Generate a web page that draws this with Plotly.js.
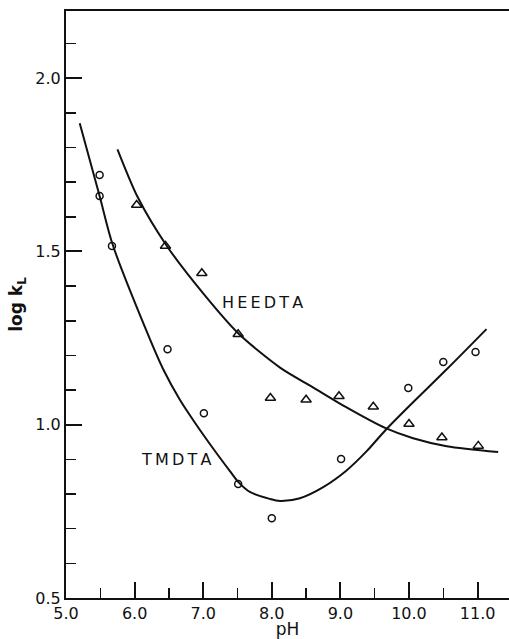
<!DOCTYPE html>
<html>
<head>
<meta charset="utf-8">
<script src="https://cdn.plot.ly/plotly-3.0.1.min.js"></script>
<style>html,body{margin:0;padding:0;background:#fff;}#chart{width:509px;height:639px;}</style>
</head>
<body>
<div id="chart"></div>
<script>
// Measured points
var tmdtaPH   = [5.49, 5.49, 5.67, 6.48, 7.01, 7.51, 8.00, 9.01, 9.99, 10.50, 10.97];
var tmdtaLogK = [1.721, 1.660, 1.516, 1.218, 1.033, 0.829, 0.730, 0.901, 1.106, 1.181, 1.210];
var heedtaPH   = [6.03, 6.45, 6.98, 7.51, 7.98, 8.50, 8.98, 9.48, 10.00, 10.48, 11.01];
var heedtaLogK = [1.634, 1.516, 1.437, 1.261, 1.077, 1.072, 1.082, 1.052, 1.002, 0.963, 0.939];

// Fitted curves
var tmdtaFitPH   = [5.20, 5.49, 5.68, 6.175, 6.417, 6.66, 6.90, 7.15, 7.39, 7.51, 7.68, 7.97, 8.12, 8.41, 8.75, 9.09, 9.38, 9.66, 10.06, 10.55, 11.13];
var tmdtaFitLogK = [1.870, 1.660, 1.520, 1.270, 1.160, 1.072, 1.000, 0.930, 0.866, 0.835, 0.806, 0.786, 0.780, 0.788, 0.820, 0.868, 0.923, 0.985, 1.065, 1.160, 1.276];
var heedtaFitPH   = [5.75, 6.05, 6.47, 7.00, 7.51, 8.12, 8.60, 9.09, 9.66, 10.06, 10.55, 11.30];
var heedtaFitLogK = [1.795, 1.655, 1.516, 1.379, 1.264, 1.165, 1.108, 1.050, 0.990, 0.961, 0.938, 0.921];

var xTickVals = [5, 6, 7, 8, 9, 10, 11];
var xTickText = ["5.0", "6.0", "7.0", "8.0", "9.0", "10.0", "11.0"];
var yTickVals = [0.5, 1.0, 1.5, 2.0];
var yTickText = ["0.5", "1.0", "1.5", "2.0"];

var ink = '#111';
var font = {family: 'DejaVu Sans, sans-serif', size: 16, color: ink};

var traces = [
  {x: tmdtaFitPH, y: tmdtaFitLogK, mode: 'lines', line: {color: ink, width: 2, shape: 'spline', smoothing: 0.8}},
  {x: heedtaFitPH, y: heedtaFitLogK, mode: 'lines', line: {color: ink, width: 2, shape: 'spline', smoothing: 0.8}},
  {x: tmdtaPH, y: tmdtaLogK, mode: 'markers', name: 'TMDTA',
   marker: {symbol: 'circle-open', size: 7, color: ink, line: {width: 1.5, color: ink}}},
  {x: heedtaPH, y: heedtaLogK, mode: 'markers', name: 'HEEDTA',
   marker: {symbol: 'triangle-up-open', size: 9, color: ink, line: {width: 1.5, color: ink}}}
];

var layout = {
  width: 509, height: 639,
  margin: {l: 66, r: 0, t: 11, b: 41, pad: 0},
  showlegend: false,
  paper_bgcolor: '#fff', plot_bgcolor: '#fff',
  font: font,
  xaxis: {
    range: [5, 11.458], showgrid: false, zeroline: false,
    showline: true, linecolor: ink, linewidth: 2, mirror: true,
    ticks: 'inside', ticklen: 16, tickwidth: 2, tickcolor: ink,
    tickmode: 'array', tickvals: xTickVals, ticktext: xTickText, tickfont: font,
    minor: {dtick: 0.5, tick0: 5, ticks: 'inside', ticklen: 10, tickwidth: 1.5, tickcolor: ink, showgrid: false},
    title: {text: 'pH', font: {size: 17}, standoff: 8}, automargin: false
  },
  yaxis: {
    range: [0.5, 2.194], showgrid: false, zeroline: false,
    showline: true, linecolor: ink, linewidth: 2,
    ticks: 'inside', ticklen: 16, tickwidth: 2, tickcolor: ink,
    tickmode: 'array', tickvals: yTickVals, ticktext: yTickText, tickfont: font,
    minor: {dtick: 0.1, tick0: 0.5, ticks: 'inside', ticklen: 10, tickwidth: 1.5, tickcolor: ink, showgrid: false},
    title: {text: 'log k<sub>L</sub>', font: {size: 17, weight: 'bold'}, standoff: 8}, automargin: false
  },
  annotations: [
    {x: 7.863, y: 1.353, xref: 'x', yref: 'y', text: 'H\u2009E\u2009E\u2009D\u2009T\u2009A', showarrow: false,
     font: {size: 16, color: ink}},
    {x: 6.60, y: 0.901, xref: 'x', yref: 'y', text: 'T\u2009M\u2009D\u2009T\u2009A', showarrow: false,
     font: {size: 16, color: ink}}
  ]
};

Plotly.newPlot('chart', traces, layout, {displayModeBar: false, staticPlot: true});
</script>
</body>
</html>
